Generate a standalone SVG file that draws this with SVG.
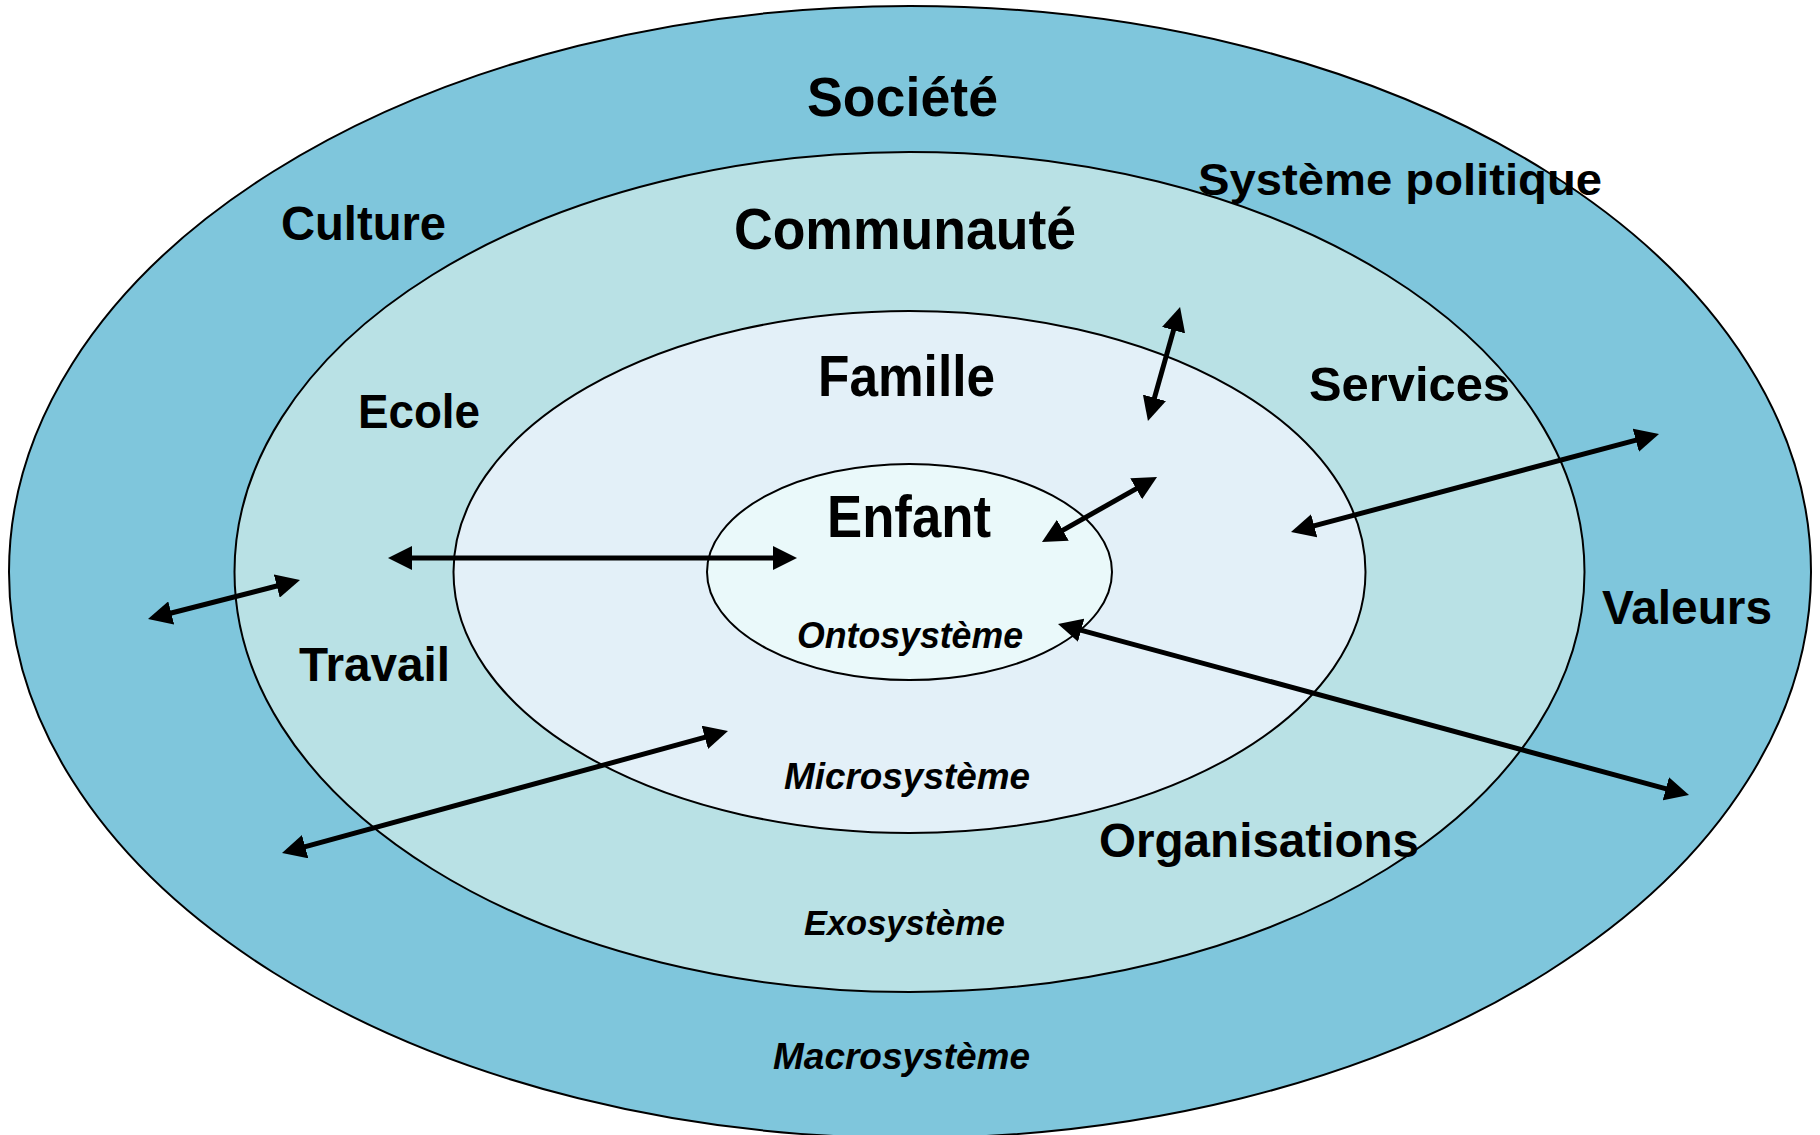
<svg xmlns="http://www.w3.org/2000/svg" width="1820" height="1135" viewBox="0 0 1820 1135">
<style>
.ring{stroke:#000;stroke-width:2}
.lbl{font-family:"Liberation Sans",Arial,sans-serif;font-weight:bold;fill:#000}
.sys{font-family:"Liberation Sans",Arial,sans-serif;font-weight:bold;font-style:italic;fill:#000}
.arr{stroke:#000;stroke-width:5;fill:none;marker-start:url(#head);marker-end:url(#head)}
</style>
<defs>
<marker id="head" markerUnits="userSpaceOnUse" markerWidth="24" markerHeight="24" refX="12" refY="12" orient="auto-start-reverse" viewBox="0 0 24 24">
<path d="M0,0 L24,12 L0,24 z" fill="#000"/>
</marker>
</defs>
<rect width="1820" height="1135" fill="#fff"/>
<g id="macrosysteme"><ellipse class="ring" cx="910" cy="572" rx="901" ry="566" fill="#7FC6DC"/></g>
<g id="exosysteme"><ellipse class="ring" cx="909.5" cy="572" rx="675" ry="420" fill="#B9E1E5"/></g>
<g id="microsysteme"><ellipse class="ring" cx="909.5" cy="572" rx="456" ry="261" fill="#E3F0F8"/></g>
<g id="ontosysteme"><ellipse class="ring" cx="909.5" cy="572" rx="202.5" ry="108" fill="#EAF9FA"/></g>
<g id="connectors">
<line class="arr" x1="400" y1="558" x2="785" y2="558"/>
<line class="arr" x1="1052.4" y1="536.1" x2="1146.6" y2="482.9"/>
<line class="arr" x1="1176.8" y1="318.6" x2="1151.2" y2="409.4"/>
<line class="arr" x1="1302.6" y1="528.9" x2="1647.4" y2="437.1"/>
<line class="arr" x1="1069.6" y1="627.1" x2="1677.4" y2="791.9"/>
<line class="arr" x1="159.6" y1="616" x2="288.4" y2="583"/>
<line class="arr" x1="293.6" y1="849.8" x2="716.4" y2="734.2"/>
</g>
<g id="macrosysteme-labels">
<text class="lbl" x="807" y="116" font-size="56" textLength="191" lengthAdjust="spacingAndGlyphs">Société</text>
<text class="lbl" x="1198" y="195" font-size="45" textLength="404" lengthAdjust="spacingAndGlyphs">Système politique</text>
<text class="lbl" x="281" y="240" font-size="48" textLength="165" lengthAdjust="spacingAndGlyphs">Culture</text>
<text class="lbl" x="1602" y="624" font-size="48" textLength="170" lengthAdjust="spacingAndGlyphs">Valeurs</text>
<text class="sys" x="773" y="1069" font-size="36" textLength="257" lengthAdjust="spacingAndGlyphs">Macrosystème</text>
</g>
<g id="exosysteme-labels">
<text class="lbl" x="734" y="249" font-size="57" textLength="342" lengthAdjust="spacingAndGlyphs">Communauté</text>
<text class="lbl" x="358" y="428" font-size="48" textLength="122" lengthAdjust="spacingAndGlyphs">Ecole</text>
<text class="lbl" x="1309" y="401" font-size="48" textLength="201" lengthAdjust="spacingAndGlyphs">Services</text>
<text class="lbl" x="299" y="681" font-size="48" textLength="151" lengthAdjust="spacingAndGlyphs">Travail</text>
<text class="lbl" x="1099" y="857" font-size="48" textLength="320" lengthAdjust="spacingAndGlyphs">Organisations</text>
<text class="sys" x="804" y="935" font-size="35" textLength="201" lengthAdjust="spacingAndGlyphs">Exosystème</text>
</g>
<g id="microsysteme-labels">
<text class="lbl" x="818" y="396" font-size="58" textLength="177" lengthAdjust="spacingAndGlyphs">Famille</text>
<text class="sys" x="784" y="789" font-size="36" textLength="246" lengthAdjust="spacingAndGlyphs">Microsystème</text>
</g>
<g id="ontosysteme-labels">
<text class="lbl" x="827" y="537" font-size="60" textLength="164" lengthAdjust="spacingAndGlyphs">Enfant</text>
<text class="sys" x="797" y="648" font-size="36" textLength="226" lengthAdjust="spacingAndGlyphs">Ontosystème</text>
</g>
</svg>
